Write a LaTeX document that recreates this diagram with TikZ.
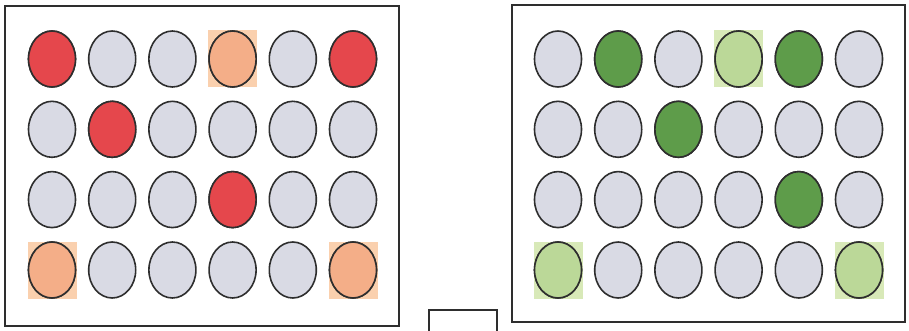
\documentclass[tikz,border=0pt]{standalone}
\usetikzlibrary{shapes.geometric}
\definecolor{dotgray}{HTML}{D9DAE4}
\definecolor{dotred}{HTML}{E5474C}
\definecolor{dotorange}{HTML}{F4AE88}
\definecolor{sqorange}{HTML}{FAD0AE}
\definecolor{dotgreen}{HTML}{5E9C4A}
\definecolor{dotlgreen}{HTML}{BBD898}
\definecolor{sqlgreen}{HTML}{D8E9B8}
\definecolor{edge}{HTML}{2E2E2E}
\tikzset{
  x=1pt, y=-1pt,
  dot/.style={ellipse, draw=edge, line width=1.6pt, minimum width=47pt, minimum height=56pt, inner sep=0pt, fill=dotgray},
  reddot/.style={dot, fill=dotred},
  orangedot/.style={dot, fill=dotorange},
  greendot/.style={dot, fill=dotgreen},
  lgreendot/.style={dot, fill=dotlgreen},
  backsq/.style={rectangle, minimum width=49pt, minimum height=57pt, inner sep=0pt, draw=none},
  frame/.style={draw=edge, line width=1.7pt}
}
\begin{document}
\begin{tikzpicture}
\useasboundingbox[fill=white] (0,0) rectangle (909,331);
% frames
\draw[frame] (5,6) rectangle (399,326);
\draw[frame] (512,5) rectangle (905,322);
\draw[frame] (429,335) -- (429,310) -- (497,310) -- (497,335);
% grid positions
\foreach \c [count=\i] in {52,112.2,172.4,232.6,292.8,353}{
  \foreach \r [count=\j] in {59,129.3,199.6,270}{
    \coordinate (L\i\j) at (\c,\r);
    \coordinate (R\i\j) at (\c+506,\r);
  }
}
\foreach \p in {41,14,64}{ \node[backsq, fill=sqorange] (Lsq\p) at (L\p) {}; }
\foreach \p in {41,14,64}{ \node[backsq, fill=sqlgreen] (Rsq\p) at (R\p) {}; }
\foreach \i in {1,...,6}{
  \foreach \j in {1,...,4}{
    \node[dot] (l\i\j) at (L\i\j) {};
    \node[dot] (r\i\j) at (R\i\j) {};
  }
}
\foreach \p in {11,61,22,43}{ \node[reddot] at (L\p) {}; }
\foreach \p in {41,14,64}{ \node[orangedot] at (L\p) {}; }
\foreach \p in {21,51,32,53}{ \node[greendot] at (R\p) {}; }
\foreach \p in {41,14,64}{ \node[lgreendot] at (R\p) {}; }
\end{tikzpicture}
\end{document}
